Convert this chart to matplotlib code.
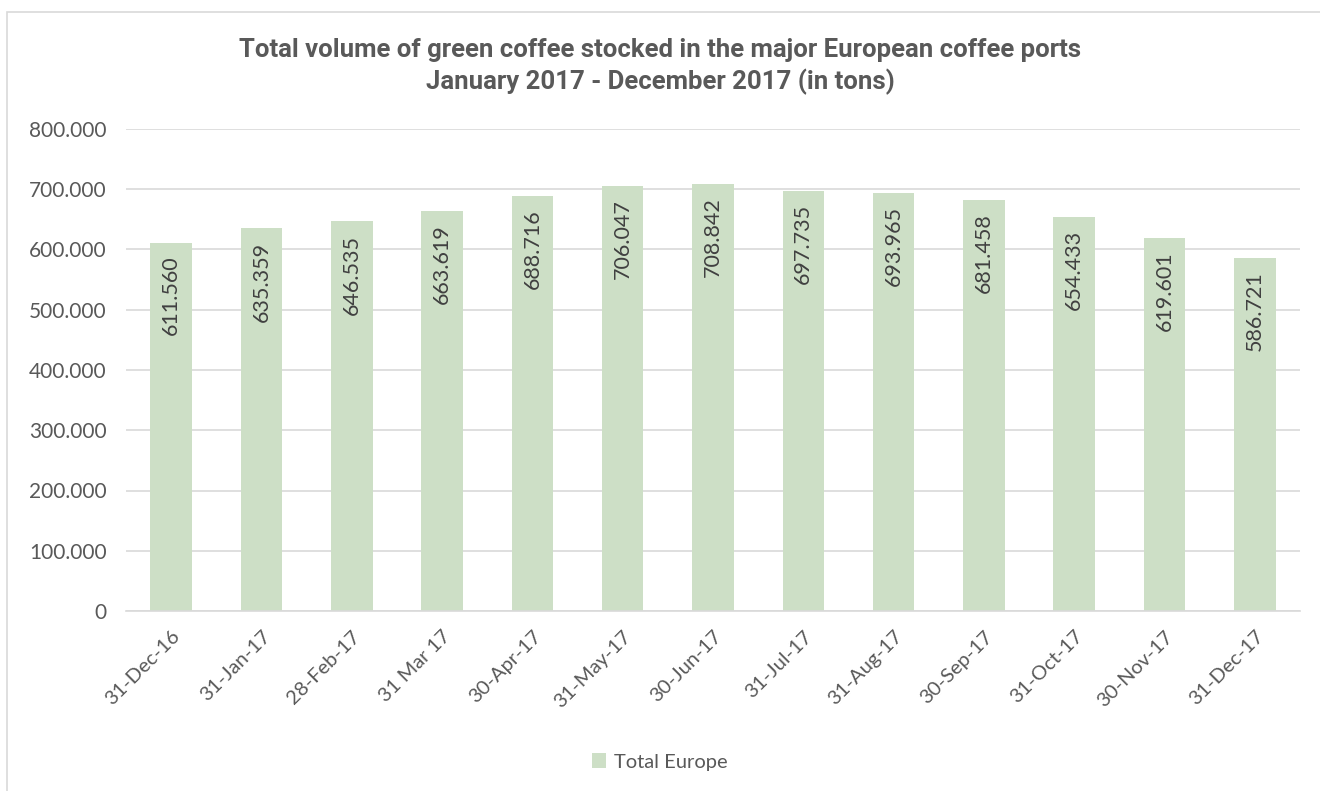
import numpy as np
import matplotlib.pyplot as plt
from matplotlib.patches import Rectangle
from matplotlib.ticker import FuncFormatter

plt.rcParams['font.family'] = ['Lato', 'DejaVu Sans']

dates = ['31-Dec-16', '31-Jan-17', '28-Feb-17', '31 Mar 17', '30-Apr-17', '31-May-17',
         '30-Jun-17', '31-Jul-17', '31-Aug-17', '30-Sep-17', '31-Oct-17', '30-Nov-17', '31-Dec-17']
total_europe = [611560, 635359, 646535, 663619, 688716, 706047,
                708842, 697735, 693965, 681458, 654433, 619601, 586721]

bar_color = '#cddfc6'
text_color = '#595959'
grid_color = '#d9d9d9'

def dotted(v):
    return f'{int(v):,}'.replace(',', '.')

fig = plt.figure(figsize=(13.2, 7.91), dpi=100)
ax = fig.add_axes([126 / 1320, 1 - 611 / 791, (1300 - 126) / 1320, (611 - 129) / 791])

# chart border
fig.patches.append(Rectangle((7 / 1320, -0.1), 1.2, 1 - 12 / 791 + 0.1, transform=fig.transFigure,
                             fill=False, edgecolor=grid_color, linewidth=1.2))

x = np.arange(len(dates))
bars = ax.bar(x, total_europe, width=0.46, color=bar_color, label='Total Europe', zorder=2)

for xi, v in zip(x, total_europe):
    ax.text(xi, v - 22000, dotted(v), rotation=90, ha='center', va='top',
            fontsize=15.5, color='#404040', zorder=3)

ax.set_xlim(-0.5, len(dates) - 0.5)
ax.set_ylim(0, 800000)
ax.set_yticks(np.arange(0, 800001, 100000))
ax.yaxis.set_major_formatter(FuncFormatter(lambda v, p: dotted(v)))
ax.grid(axis='y', color=grid_color, linewidth=1.2, zorder=0)
ax.set_axisbelow(True)
for s in ['top', 'right', 'left']:
    ax.spines[s].set_visible(False)
ax.spines['bottom'].set_color(grid_color)
ax.spines['bottom'].set_linewidth(1.2)
ax.tick_params(axis='y', length=0, labelsize=15, colors=text_color, pad=14)
ax.tick_params(axis='x', length=0, labelsize=14.5, colors=text_color, pad=12)
ax.set_xticks(x)
ax.set_xticklabels(dates, rotation=45, ha='right', rotation_mode='anchor')

fig.text(0.5, 1 - 50 / 791, 'Total volume of green coffee stocked in the major European coffee ports',
         ha='center', va='center', fontsize=18.5, fontweight='bold', color=text_color, family='Roboto')
fig.text(0.5, 1 - 82 / 791, 'January 2017 - December 2017 (in tons)',
         ha='center', va='center', fontsize=18.5, fontweight='bold', color=text_color, family='Roboto')

fig.legend(handles=[bars], labels=['Total Europe'], loc='center', bbox_to_anchor=(0.5, 1 - 762 / 791),
           frameon=False, fontsize=14.5, labelcolor=text_color, handlelength=0.7, handleheight=0.7,
           handletextpad=0.4)

fig.savefig('out.png', dpi=100, facecolor='white')
